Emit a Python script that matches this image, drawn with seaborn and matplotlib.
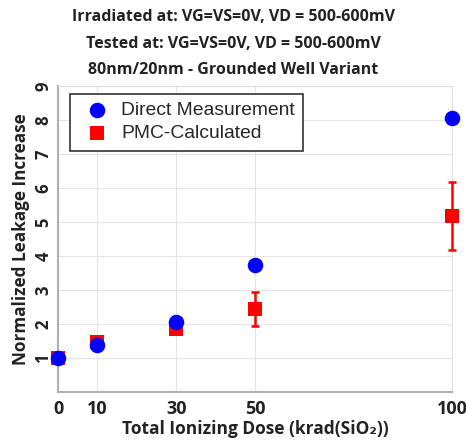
import matplotlib
matplotlib.use("Agg")
import matplotlib.pyplot as plt
import seaborn as sns
import pandas as pd
import numpy as np

dose = [0, 10, 30, 50, 100]
direct = [1.0, 1.38, 2.05, 3.72, 8.07]
pmc = [1.0, 1.48, 1.85, 2.45, 5.18]
pmc_err = [0.05, 0.06, 0.12, 0.5, 1.0]
xticks = [0, 10, 30, 50, 100]
yticks = [1, 2, 3, 4, 5, 6, 7, 8, 9]
title = "Irradiated at: VG=VS=0V, VD = 500-600mV\nTested at: VG=VS=0V, VD = 500-600mV\n80nm/20nm - Grounded Well Variant"

sns.set_style("white")
plt.rcParams['font.family'] = ['Open Sans', 'DejaVu Sans']

fig = plt.figure(figsize=(4.66, 4.45), dpi=100)
ax = fig.add_axes([0.1245, 0.119, 0.8455, 0.688])

df = pd.DataFrame({"dose": dose + dose,
                   "value": direct + pmc,
                   "series": ["Direct Measurement"] * 5 + ["PMC-Calculated"] * 5})

eb = ax.errorbar(dose, pmc, yerr=pmc_err, fmt='none', ecolor='red', elinewidth=1.8,
                 capsize=3, capthick=1.8, zorder=6)
for art in eb.lines[1] + eb.lines[2]:
    art.set_clip_on(False)
sns.scatterplot(data=df[df.series == "PMC-Calculated"], x="dose", y="value",
                marker='s', color='red', s=100, linewidth=0, ax=ax, zorder=7,
                label="PMC-Calculated", clip_on=False)
sns.scatterplot(data=df[df.series == "Direct Measurement"], x="dose", y="value",
                marker='o', color='blue', s=125, linewidth=0, ax=ax, zorder=8,
                label="Direct Measurement", clip_on=False)

ax.set_xlim(0, 100)
ax.set_ylim(0, 9)
ax.set_xticks(xticks)
ax.set_yticks(yticks)
ax.grid(True, color='#e6e6e6', linewidth=0.8)
ax.set_axisbelow(True)
for s in ['top', 'right']:
    ax.spines[s].set_color('#e0e0e0')
    ax.spines[s].set_linewidth(0.8)
for s in ['left', 'bottom']:
    ax.spines[s].set_color('#b0b0b0')
    ax.spines[s].set_linewidth(1.5)
ax.tick_params(axis='x', labelsize=13, length=0, pad=6)
ax.tick_params(axis='y', labelsize=12, length=0, pad=4, labelrotation=90)
for lbl in ax.get_xticklabels() + ax.get_yticklabels():
    lbl.set_fontweight('bold')
    lbl.set_color('#222222')
for lbl in ax.get_yticklabels():
    lbl.set_va('center')

ax.set_xlabel("Total Ionizing Dose (krad(SiO\u2082))", fontsize=12.5, fontweight='bold',
              color='#222222', labelpad=1)
ax.set_ylabel("Normalized Leakage Increase", fontsize=12.3, fontweight='bold',
              color='#222222', labelpad=3)

handles, labels = ax.get_legend_handles_labels()
order = [labels.index("Direct Measurement"), labels.index("PMC-Calculated")]
leg = ax.legend([handles[i] for i in order], [labels[i] for i in order],
                loc='upper left', bbox_to_anchor=(0.03, 0.975),
                frameon=True, fancybox=False, edgecolor='#333333', framealpha=1,
                borderpad=0.42, handletextpad=0.25, labelspacing=0.3, borderaxespad=0,
                handlelength=2.0,
                prop={'family': ['Liberation Sans'], 'size': 13.9})
leg.get_frame().set_linewidth(1.2)
leg.set_zorder(10)

fig.text(0.5, 0.98, title, ha='center', va='top', fontsize=11.5, fontweight='bold',
         color='#222222', linespacing=1.9)

fig.savefig("out.png", dpi=100)
